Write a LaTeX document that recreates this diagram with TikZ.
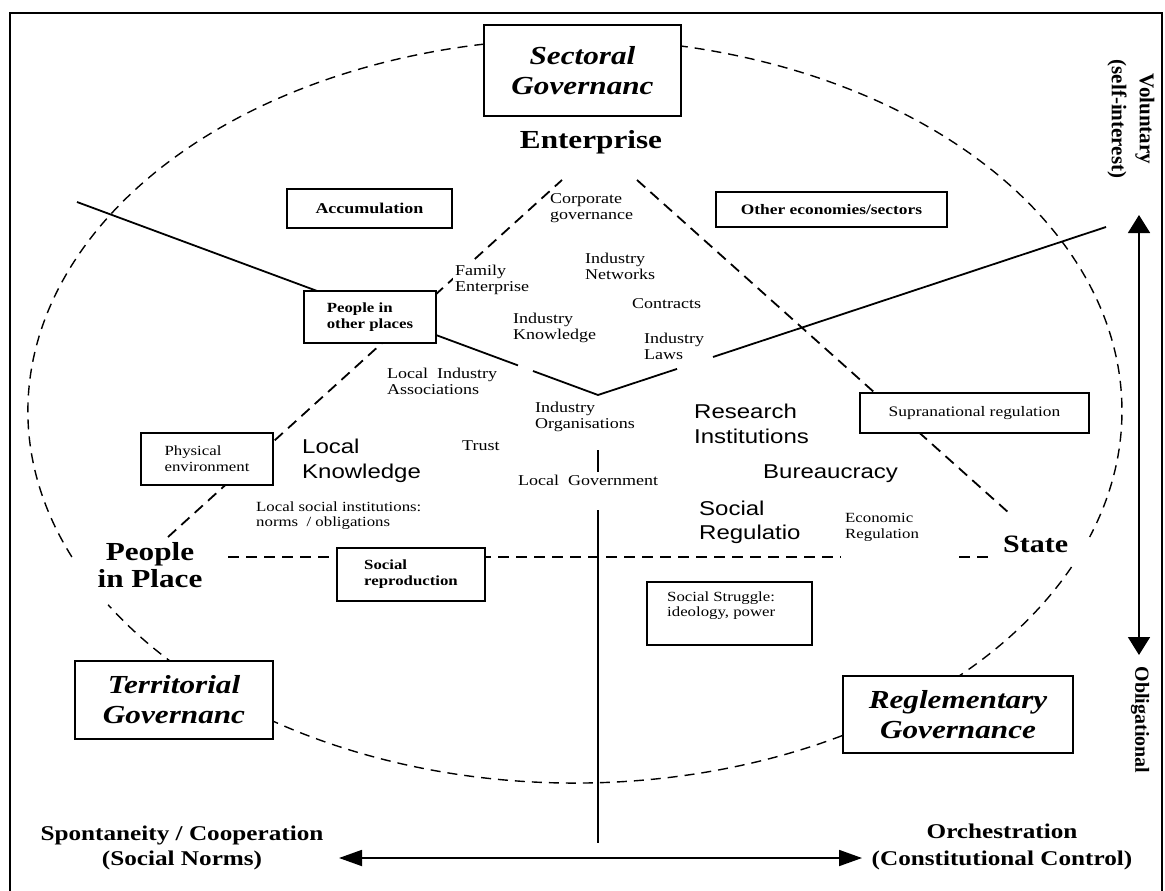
\documentclass[tikz,border=0pt]{standalone}
\usepackage{fontspec}
\setmainfont[FakeStretch=1.2]{Liberation Serif}
\newfontfamily\arialf[FakeStretch=1.2]{Liberation Sans}
\newfontfamily\plainserif{Liberation Serif}
\usetikzlibrary{arrows.meta}
\newcommand\setfs[2]{\fontsize{#1}{#2}\selectfont}
\begin{document}
\begin{tikzpicture}[x=1pt,y=-1pt,
  box/.style={draw, fill=white, line width=1.4pt, inner sep=0pt, align=left},
  dsh/.style={line width=1.8pt, dash pattern=on 11pt off 7pt},
  ell/.style={line width=1.4pt, dash pattern=on 10pt off 7pt},
  sol/.style={line width=1.8pt},
  txt/.style={inner sep=0pt, align=left, anchor=north west, font=\setfs{15}{16}},
  sans/.style={inner sep=0pt, align=left, anchor=north west, font=\arialf\setfs{20}{25}},
  bigb/.style={inner sep=0pt, font=\bfseries\setfs{26}{27}},
  gov/.style={box, align=center, font=\bfseries\itshape\setfs{26}{30}}
]
\useasboundingbox (0,0) rectangle (1165,891);
\fill[white] (0,0) rectangle (1165,891);
% frame
\coordinate (fA) at (10,891); \coordinate (fB) at (10,13);
\coordinate (fC) at (1162,13); \coordinate (fD) at (1162,891);
\draw[line width=1.5pt] (fA) -- (fB) -- (fC) -- (fD);

% dashed oval
\coordinate (C) at (575,411);
\draw[ell] ([shift={(24.8:547 and 372)}]C) arc[start angle=24.8, end angle=148.6, x radius=547, y radius=372];
\draw[ell] ([shift={(156.9:547 and 372)}]C) arc[start angle=156.9, end angle=379.8, x radius=547, y radius=372];

% diamond dashed lines
\coordinate (dl1) at (168,537); \coordinate (dl2) at (562,180);
\coordinate (dr1) at (637,180); \coordinate (dr2) at (1009,513);
\draw[dsh] (dl1) -- (dl2);
\draw[dsh] (dr1) -- (dr2);
% horizontal dashed line
\coordinate (h1) at (228,557); \coordinate (h2) at (841,557);
\coordinate (h3) at (959,557); \coordinate (h4) at (989,557);
\draw[dsh] (h1) -- (h2);
\draw[dsh] (h3) -- (h4);

% V solid lines
\coordinate (v0) at (77,202); \coordinate (va) at (518,365.4);
\coordinate (vb) at (533,371); \coordinate (vm) at (598,395);
\coordinate (vc) at (677,368.9); \coordinate (vd) at (713,357);
\coordinate (ve) at (1106,227);
\draw[sol] (v0) -- (va);
\draw[sol] (vb) -- (vm) -- (vc);
\draw[sol] (vd) -- (ve);

% vertical solid line
\coordinate (t1) at (598,450); \coordinate (t2) at (598,472);
\coordinate (t3) at (598,510); \coordinate (t4) at (598,843);
\draw[sol] (t1) -- (t2);
\draw[sol] (t3) -- (t4);

% axis arrows
\coordinate (ua) at (1139,215); \coordinate (ub) at (1139,655);
\draw[sol, {Triangle[width=22pt,length=18pt]}-{Triangle[width=22pt,length=18pt]}] (ua) -- (ub);
\coordinate (la) at (339,858); \coordinate (lb) at (862,858);
\draw[sol, {Triangle[width=16pt,length=23pt]}-{Triangle[width=16pt,length=23pt]}] (la) -- (lb);

% boxes
\node[gov, minimum width=197pt, minimum height=91pt] (sect) at (582.5,70.5) {Sectoral\\Governanc};
\node[box, minimum width=165pt, minimum height=39pt, font=\bfseries\setfs{15}{17}] (acc) at (369.5,208.5) {Accumulation};
\node[box, minimum width=231pt, minimum height=35pt, font=\bfseries\setfs{14.5}{17}] (oth) at (831.5,209.5) {Other economies/sectors};
\node[box, minimum width=132pt, minimum height=52pt, font=\bfseries\setfs{14}{16}] (pop) at (370,317) {People in\\other places};
\node[box, minimum width=132pt, minimum height=52pt, font=\setfs{14}{16}] (phys) at (207,459) {Physical\\environment};
\node[box, minimum width=148pt, minimum height=53pt, font=\bfseries\setfs{14}{16}] (soc) at (411,574.5) {Social\\reproduction};
\node[box, minimum width=229pt, minimum height=40pt, font=\setfs{14.5}{17}] (supra) at (974.5,413) {Supranational regulation};
\node[box, minimum width=165pt, minimum height=63pt] (strug) at (729.5,613.5) {};
\node[txt, font=\setfs{14}{15}] (strugt) at (667,592) {Social Struggle:\\ideology, power};
\node[gov, minimum width=198pt, minimum height=78pt] (terr) at (174,700) {Territorial\\Governanc};
\node[gov, minimum width=230pt, minimum height=77pt] (regl) at (958,714.5) {Reglementary\\Governance};

% big labels
\node[bigb, anchor=base] (ent) at (591,148) {Enterprise};
\node[bigb, anchor=north, align=center] (pip) at (150,542) {People\\in Place};
\node[bigb, anchor=base west, font=\bfseries\setfs{25}{27}] (state) at (1003,552) {State};

% small serif texts
\node[txt] (corp) at (550,193) {Corporate\\governance};
\node[txt, fill=white, inner sep=2pt] (fam) at (453,263) {Family\\Enterprise};
\node[txt] (net) at (585,253) {Industry\\Networks};
\node[txt] (contr) at (632,298) {Contracts};
\node[txt] (know) at (513,313) {Industry\\Knowledge};
\node[txt] (laws) at (644,333) {Industry\\Laws};
\node[txt] (assoc) at (387,368) {Local\ \ Industry\\Associations};
\node[txt] (org) at (535,402) {Industry\\Organisations};
\node[txt] (trust) at (462,440) {Trust};
\node[txt] (lgov) at (518,475) {Local\ \ Government};
\node[txt, font=\setfs{14}{15}] (lsi) at (256,502) {Local social institutions:\\norms\ \ / obligations};
\node[txt, font=\setfs{14}{16}] (econ) at (845,513) {Economic\\Regulation};

% sans texts
\node[sans] (lk) at (302,439) {Local\\Knowledge};
\node[sans] (ri) at (694,404) {Research\\Institutions};
\node[sans, anchor=base west] (bur) at (763,478) {Bureaucracy};
\node[sans, font=\arialf\setfs{20}{24}] (sr) at (699,501) {Social\\Regulatio};

% axis labels
\node[inner sep=0pt, anchor=north, align=center, font=\bfseries\setfs{21}{25}] (spon) at (182,826) {Spontaneity / Cooperation\\(Social Norms)};
\node[inner sep=0pt, anchor=north, align=center, font=\bfseries\setfs{21}{27}] (orch) at (1002,824) {Orchestration\\(Constitutional Control)};
\node[inner sep=0pt, rotate=-90, align=center, font=\plainserif\bfseries\setfs{21}{28}] (vol) at (1131,119) {Voluntary\\(self-interest)};
\node[inner sep=0pt, rotate=-90, font=\plainserif\bfseries\setfs{20}{24}] (obl) at (1140,720) {Obligational};
\end{tikzpicture}
\end{document}
